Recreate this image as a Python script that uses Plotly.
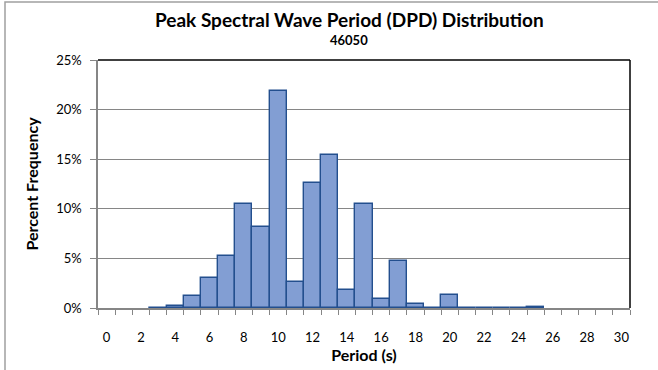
import plotly.graph_objects as go

# Peak spectral wave period distribution, buoy 46050
periods = list(range(0, 31))
percent = [0, 0, 0, 0.03, 0.2, 1.2, 3.0, 5.2, 10.5, 8.2,
           21.9, 2.65, 12.6, 15.4, 1.85, 10.5, 0.95, 4.7, 0.4, 0.05,
           1.35, 0.03, 0.01, 0.01, 0.01, 0.08, 0, 0, 0, 0, 0]
xtick_vals = list(range(0, 31, 2))
ytick_vals = [0, 5, 10, 15, 20, 25]

FONT = "Lato"
GRAY = "#868686"
PLOT_L, PLOT_W = 98, 532
TITLE_CX = (349 - PLOT_L) / PLOT_W  # chart-wide centre of the title block

# empty bins get no outline so the baseline stays clean
outline_w = [1.4 if v > 0 else 0 for v in percent]

fig = go.Figure()
fig.add_trace(go.Bar(
    x=periods,
    y=percent,
    width=1,
    marker=dict(color="#829ed3", line=dict(color="#234f8e", width=outline_w)),
    hoverinfo="x+y",
))

fig.update_layout(
    width=658, height=370,
    margin=dict(l=PLOT_L, r=28, t=60, b=62),
    paper_bgcolor="white",
    plot_bgcolor="white",
    showlegend=False,
    font=dict(family=FONT, color="black"),
    bargap=0,
)

fig.add_annotation(text="<b>Peak Spectral Wave Period (DPD) Distribution</b>",
                   xref="paper", yref="paper", x=TITLE_CX, y=1.0, yshift=41,
                   xanchor="center", yanchor="middle", showarrow=False,
                   font=dict(size=19, family=FONT))
fig.add_annotation(text="<b>46050</b>",
                   xref="paper", yref="paper", x=TITLE_CX, y=1.0, yshift=20,
                   xanchor="center", yanchor="middle", showarrow=False,
                   font=dict(size=13, family=FONT))

fig.update_xaxes(
    range=[-0.5, 30.5],
    tickvals=xtick_vals,
    ticktext=[str(v) for v in xtick_vals],
    ticks="",
    ticklabelstandoff=17,
    tickfont=dict(size=13, family=FONT),
    showgrid=False,
    zeroline=False,
    showline=True, linecolor=GRAY, linewidth=1.5,
    minor=dict(tick0=-0.5, dtick=1, ticks="outside", ticklen=5,
               tickcolor=GRAY, tickwidth=1, showgrid=False),
    title=dict(text="<b>Period (s)</b>", font=dict(size=16, family=FONT), standoff=4),
    automargin=False,
    fixedrange=True,
)
fig.update_yaxes(
    range=[0, 25],
    tickvals=ytick_vals,
    ticktext=[f"{v}%" for v in ytick_vals],
    ticks="outside", ticklen=6, tickcolor=GRAY,
    ticklabelstandoff=6,
    tickfont=dict(size=13, family=FONT),
    showgrid=True, gridcolor=GRAY, gridwidth=1,
    zeroline=False,
    showline=True, linecolor=GRAY, linewidth=1.5,
    title=dict(text="<b>Percent Frequency</b>", font=dict(size=16, family=FONT), standoff=14),
    automargin=False,
    fixedrange=True,
)

# Black frame on the top and right edges of the plot area
fig.add_shape(type="line", xref="paper", yref="paper", x0=0, x1=1, y0=1, y1=1,
              line=dict(color="black", width=1.5))
fig.add_shape(type="line", xref="paper", yref="paper", x0=1, x1=1, y0=0, y1=1,
              line=dict(color="black", width=1.5))

# Outer chart border
fig.add_shape(type="rect", xref="paper", yref="paper",
              x0=-93 / PLOT_W, x1=1.2, y0=-0.3, y1=1 + 58 / 248,
              line=dict(color="#a0a0a0", width=1.5), fillcolor="rgba(0,0,0,0)")

fig.write_html("out.html")
